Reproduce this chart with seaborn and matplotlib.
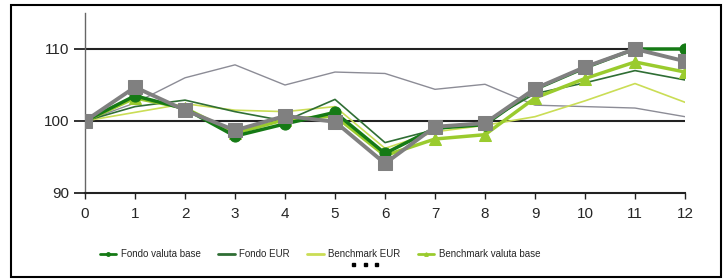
import matplotlib
matplotlib.use("Agg")
import matplotlib.pyplot as plt
import seaborn as sns
import numpy as np
from matplotlib.lines import Line2D
from matplotlib.patches import Rectangle

months = list(range(13))
fondo_valuta_base = [100, 103.5, 101.7, 97.9, 99.6, 101.2, 95.5, 99.0, 99.5, 104.4, 107.4, 110.0, 110.0]
fondo_eur = [100, 102.0, 102.9, 101.3, 100.0, 103.0, 97.0, 98.8, 99.8, 103.8, 105.3, 107.0, 105.7]
benchmark_eur = [100, 101.2, 102.4, 101.5, 101.3, 102.0, 96.2, 98.5, 99.4, 100.6, 102.8, 105.2, 102.6]
benchmark_valuta_base = [100, 103.2, 101.8, 98.3, 100.2, 100.7, 95.2, 97.5, 98.1, 103.2, 105.9, 108.2, 106.8]
serie_grigia = [100, 104.7, 101.5, 98.7, 100.7, 99.9, 94.1, 99.2, 99.7, 104.5, 107.5, 110.0, 108.3]
serie_grigia_sottile = [100, 102.5, 106.0, 107.8, 105.0, 106.8, 106.6, 104.4, 105.1, 102.2, 102.0, 101.8, 100.6]
legend_labels = ["Fondo valuta base", "Fondo EUR", "Benchmark EUR", "Benchmark valuta base"]
yticks = [90, 100, 110]

sns.set_style("white")
FONT = ["Liberation Sans Narrow", "Liberation Sans", "DejaVu Sans"]
plt.rcParams["font.family"] = FONT

W, H = 727, 280
fig = plt.figure(figsize=(W / 100, H / 100), dpi=100)
ax = fig.add_axes([85 / W, 1 - 193 / H, 600 / W, 180 / H])

c_dark = "#157a15"
c_dark_thin = "#2f6e34"
c_yg_thin = "#cadd55"
c_lg = "#9acb2e"
c_gray = "#808080"
c_gray_thin = "#8c8c96"

ax.axhline(100, color="#222222", lw=1.5, zorder=1)
ax.axhline(110, color="#222222", lw=1.5, zorder=1)

sns.lineplot(x=months, y=serie_grigia_sottile, color=c_gray_thin, lw=1.0, ax=ax, zorder=2)
sns.lineplot(x=months, y=benchmark_eur, color=c_yg_thin, lw=1.2, ax=ax, zorder=2)
sns.lineplot(x=months, y=fondo_eur, color=c_dark_thin, lw=1.2, ax=ax, zorder=2)
sns.lineplot(x=months, y=benchmark_valuta_base, color=c_lg, lw=2.5, marker="^", markersize=8,
             markeredgecolor=c_lg, ax=ax, zorder=3)
sns.lineplot(x=months, y=fondo_valuta_base, color=c_dark, lw=2.5, marker="o", markersize=8,
             markeredgecolor=c_dark, ax=ax, zorder=4)
sns.lineplot(x=months, y=serie_grigia, color=c_gray, lw=2.8, marker="s", markersize=10,
             markeredgecolor=c_gray, ax=ax, zorder=5)

ax.set_xlim(0, 12)
ax.set_ylim(90, 115)
ax.set_xticks(months)
ax.set_yticks(yticks)
ax.set_xlabel("")
ax.set_ylabel("")
for s in ["top", "right"]:
    ax.spines[s].set_visible(False)
ax.spines["left"].set_color("#666666")
ax.spines["left"].set_linewidth(1.0)
ax.spines["bottom"].set_color("#222222")
ax.spines["bottom"].set_linewidth(1.5)
ax.tick_params(axis="x", direction="out", length=4, width=1, color="#222222", pad=6,
               labelsize=11, bottom=True)
ax.tick_params(axis="y", direction="out", length=8, width=1.3, color="#222222", pad=3,
               labelsize=11, left=True)
for lab in ax.get_xticklabels() + ax.get_yticklabels():
    lab.set_family(FONT)
if ax.get_legend():
    ax.get_legend().remove()

handles = [
    Line2D([], [], color=c_dark, lw=2, marker="o", markersize=2.5),
    Line2D([], [], color=c_dark_thin, lw=2),
    Line2D([], [], color=c_yg_thin, lw=2),
    Line2D([], [], color=c_lg, lw=2, marker="^", markersize=2.5),
]
fig.legend(handles, legend_labels, loc="center", bbox_to_anchor=(320 / W, 1 - 254 / H),
           ncol=4, frameon=False, prop={"family": FONT, "size": 7},
           handlelength=1.7, handletextpad=0.45, columnspacing=1.8)

for xd in [353, 365, 377]:
    fig.patches.append(Rectangle(((xd - 1.5) / W, 1 - 265.5 / H), 3 / W, 3 / H,
                                 transform=fig.transFigure, color="black", figure=fig))

fig.patches.append(Rectangle((11 / W, 1 - 277 / H), 710 / W, 272 / H, transform=fig.transFigure,
                             fill=False, edgecolor="black", lw=1.5, figure=fig))

fig.savefig("out.png", dpi=100, facecolor="white")
